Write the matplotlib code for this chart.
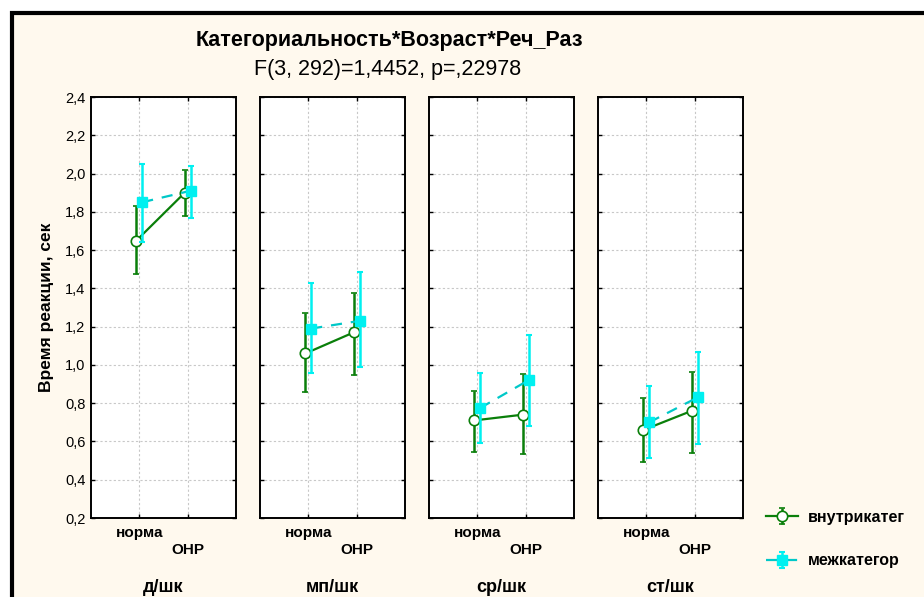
import numpy as np
import matplotlib
matplotlib.use("Agg")
from matplotlib import pyplot as plt
from matplotlib.patches import Rectangle

plt.rcParams['font.family'] = ['Liberation Sans', 'DejaVu Sans']

groups = ['д/шк', 'мп/шк', 'ср/шк', 'ст/шк']
speech = ['норма', 'ОНР']

# внутрикатег: mean and error bar limits per group (норма, ОНР)
vnutri_mean = [[1.65, 1.90], [1.06, 1.17], [0.71, 0.74], [0.66, 0.76]]
vnutri_lo = [[1.475, 1.78], [0.857, 0.948], [0.544, 0.535], [0.491, 0.542]]
vnutri_hi = [[1.83, 2.02], [1.27, 1.378], [0.866, 0.951], [0.827, 0.965]]

# межкатегор
mezh_mean = [[1.85, 1.91], [1.19, 1.23], [0.775, 0.92], [0.70, 0.83]]
mezh_lo = [[1.644, 1.77], [0.958, 0.991], [0.59, 0.681], [0.512, 0.587]]
mezh_hi = [[2.05, 2.04], [1.43, 1.484], [0.96, 1.157], [0.892, 1.069]]

yticks = [0.2, 0.4, 0.6, 0.8, 1.0, 1.2, 1.4, 1.6, 1.8, 2.0, 2.2, 2.4]

W, H = 924, 597
fig = plt.figure(figsize=(W / 100, H / 100), dpi=100, facecolor='white')

# cream frame with black border
fig.patches.append(Rectangle((12 / W, -0.1), 1.2, 1 - 13 / H + 0.1,
                             transform=fig.transFigure, facecolor='#FFF9EE',
                             edgecolor='black', linewidth=3, zorder=-5))

green = '#0A7F0A'
cyan = '#00F0F0'
cyan_line = '#00C8C8'

x = np.array([1, 2])
lefts = [91, 260, 429, 598]
handles = None
for i, g in enumerate(groups):
    ax = fig.add_axes([lefts[i] / W, (H - 518) / H, 145 / W, 421 / H], zorder=2)
    ax.set_facecolor('white')
    e1 = ax.errorbar(x - 0.06, vnutri_mean[i],
                     yerr=[np.subtract(vnutri_mean[i], vnutri_lo[i]),
                           np.subtract(vnutri_hi[i], vnutri_mean[i])],
                     color=green, lw=1.6, elinewidth=1.8, capsize=2.5, capthick=1.5,
                     marker='o', ms=7.5, mfc='white', mec=green, mew=1.2, zorder=3)
    e2 = ax.errorbar(x + 0.06, mezh_mean[i],
                     yerr=[np.subtract(mezh_mean[i], mezh_lo[i]),
                           np.subtract(mezh_hi[i], mezh_mean[i])],
                     color=cyan_line, ls=(0, (5, 4)), lw=1.6, ecolor=cyan,
                     elinewidth=1.8, capsize=2.5, capthick=1.5,
                     marker='s', ms=7.5, mfc=cyan, mec=cyan, zorder=4)
    if handles is None:
        handles = [e1, e2]
    ax.set_xlim(0, 3)
    ax.set_ylim(0.2, 2.4)
    ax.set_xticks(x)
    ax.set_xticklabels([])
    ax.set_yticks(yticks)
    if i == 0:
        ax.set_yticklabels([('%.1f' % v).replace('.', ',') for v in yticks], fontsize=10.5)
        ax.set_ylabel('Время реакции, сек', fontsize=12.5, fontweight='bold', labelpad=8)
    else:
        ax.set_yticklabels([])
    ax.tick_params(direction='in', length=3, width=1, top=True, right=True, pad=4)
    ax.grid(True, color='#C8C8C8', ls=(0, (2, 2)), lw=0.8)
    for s in ax.spines.values():
        s.set_linewidth(1.4)
    tr = ax.get_xaxis_transform()
    ax.text(1, -0.036, speech[0], transform=tr, ha='center', va='center',
            fontsize=11, fontweight='bold')
    ax.text(2, -0.076, speech[1], transform=tr, ha='center', va='center',
            fontsize=11, fontweight='bold')
    ax.text(0.5, -0.164, g, transform=ax.transAxes, ha='center', va='center',
            fontsize=13, fontweight='bold')

fig.text(389 / W, 1 - 46 / H, 'Категориальность*Возраст*Реч_Раз', ha='center',
         va='baseline', fontsize=15.5, fontweight='bold')
fig.text(388 / W, 1 - 75 / H, 'F(3, 292)=1,4452, p=,22978', ha='center',
         va='baseline', fontsize=15.5)

fig.legend(handles, ['внутрикатег', 'межкатегор'], loc='center left',
           bbox_to_anchor=(752 / W, 1 - 539 / H), frameon=False,
           prop={'weight': 'bold', 'size': 11.5}, labelspacing=1.8,
           handlelength=2.0, handletextpad=0.6)

fig.savefig('out.png', dpi=100, facecolor='white')
